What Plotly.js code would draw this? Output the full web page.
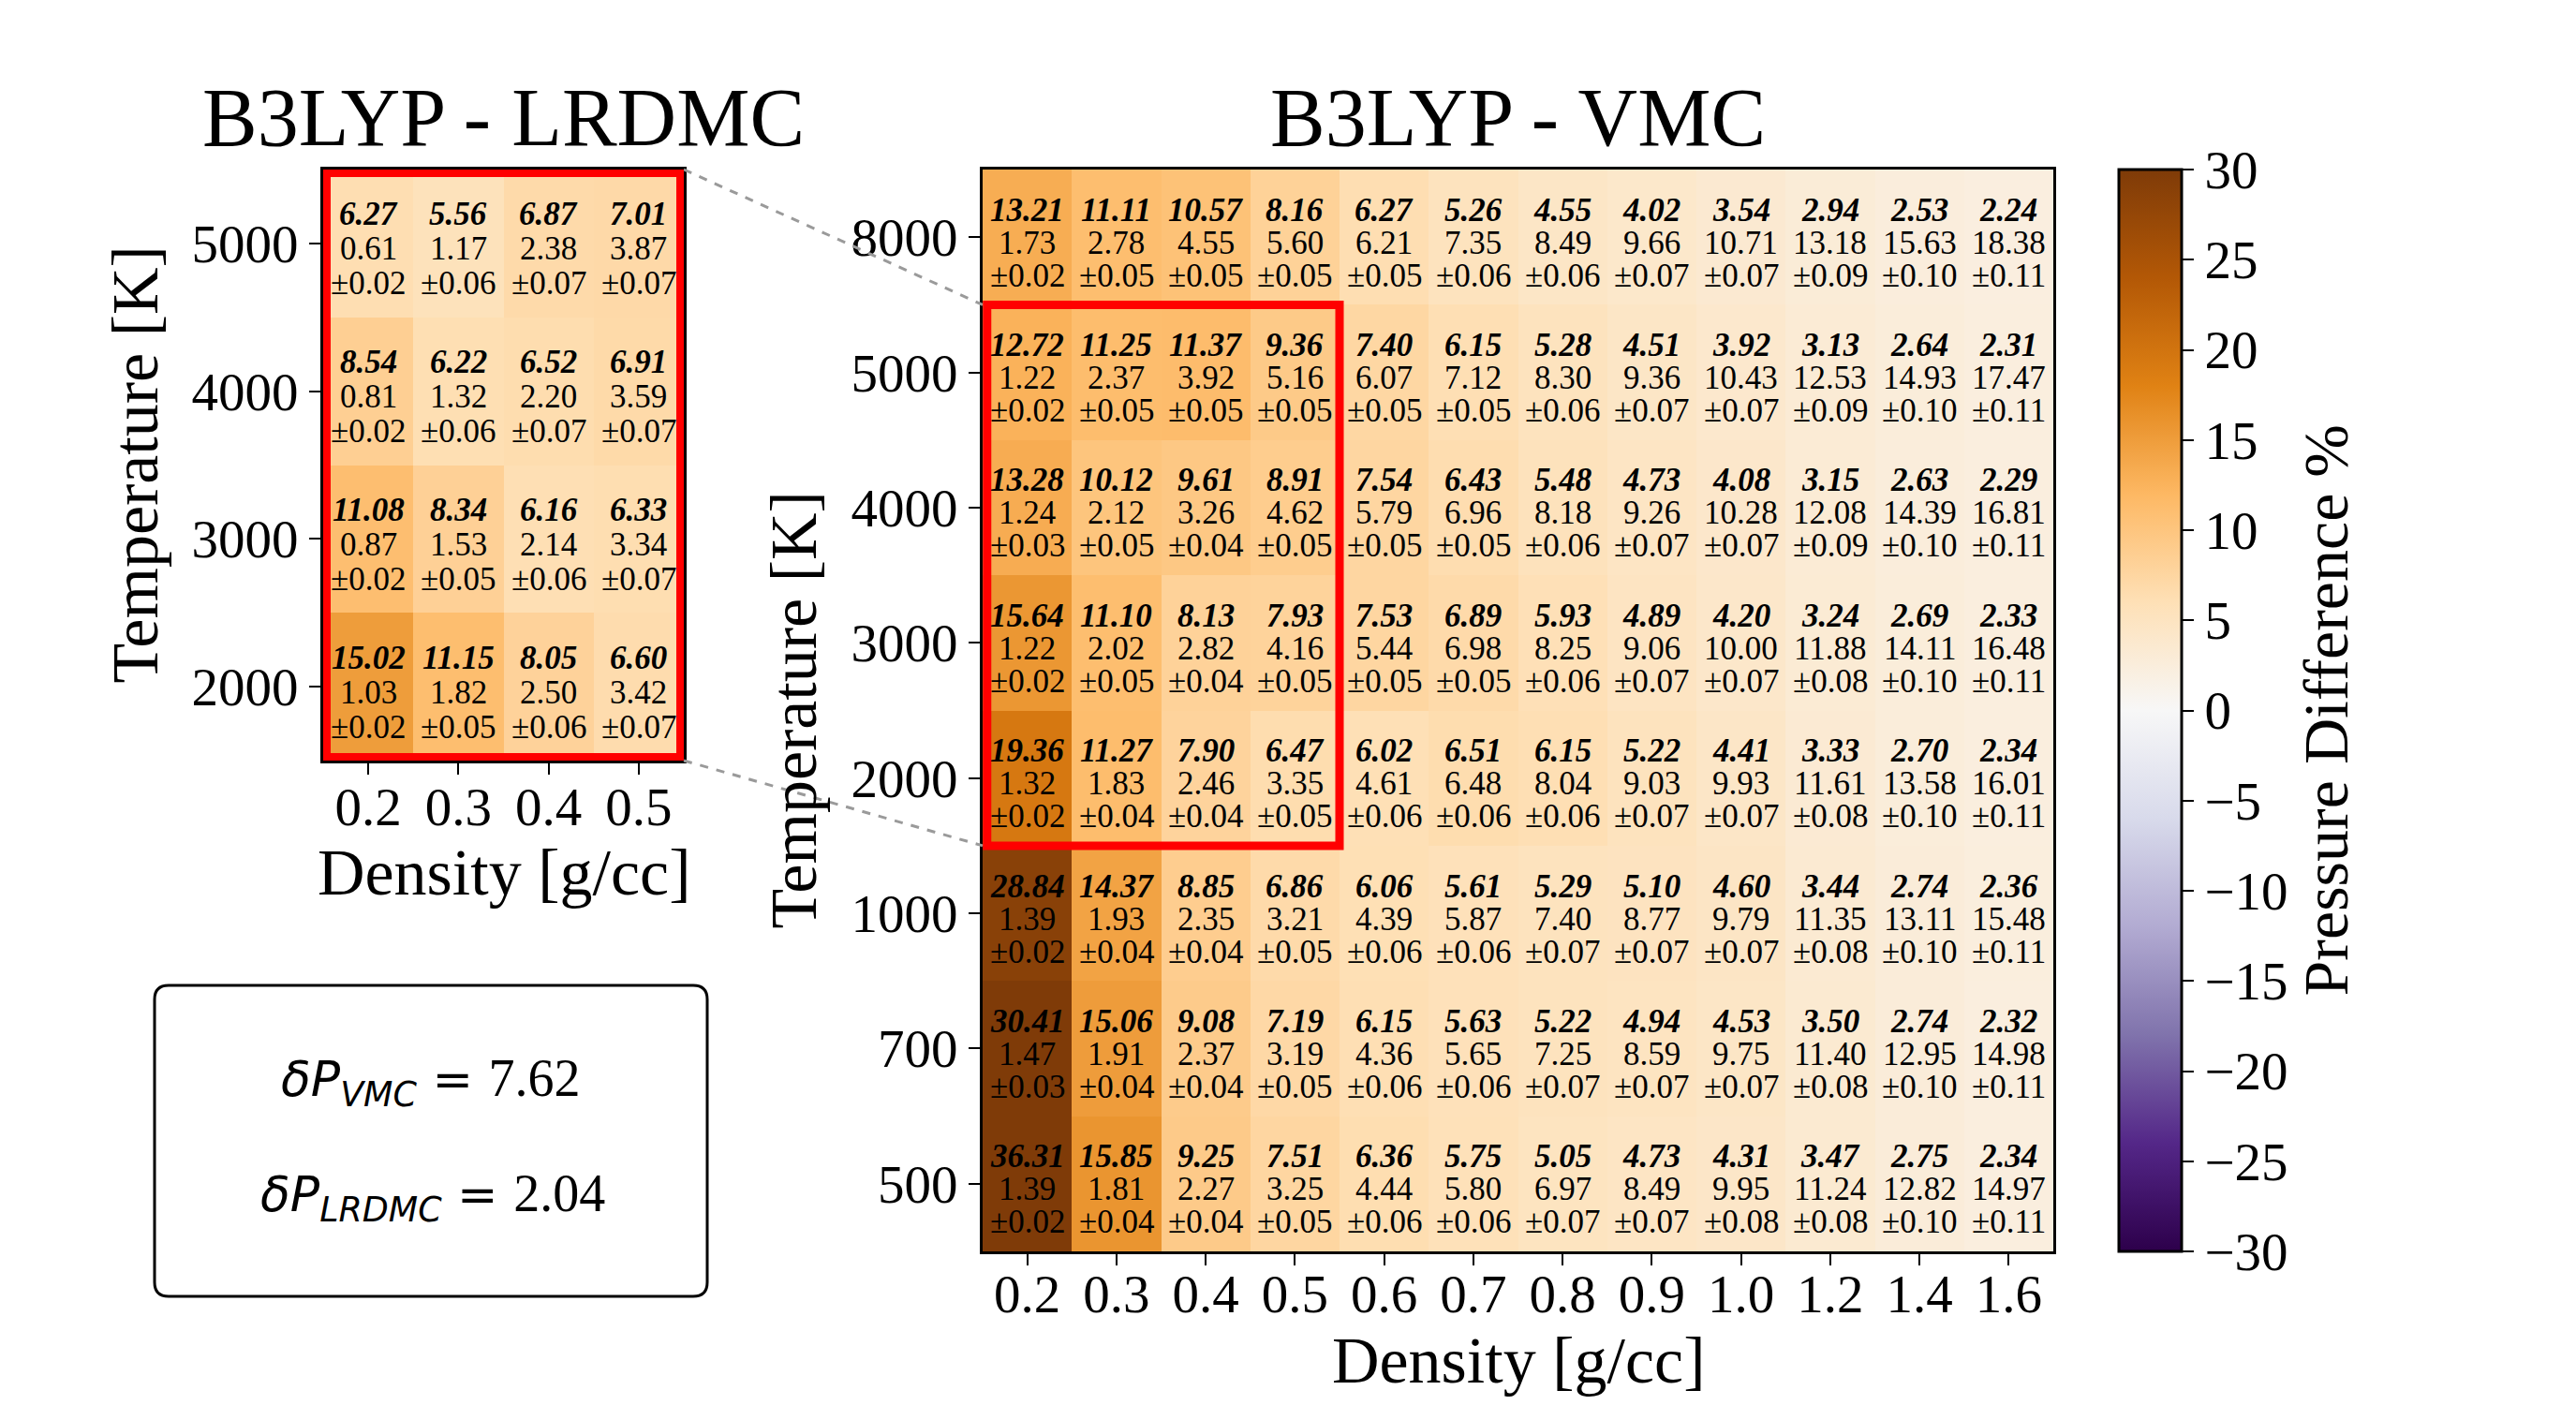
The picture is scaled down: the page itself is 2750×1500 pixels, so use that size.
<!DOCTYPE html>
<html>
<head>
<meta charset="utf-8">
<script src="https://cdn.plot.ly/plotly-3.0.1.min.js"></script>
<style>body{margin:0;background:#fff}</style>
</head>
<body>
<div id="chart" style="width:2750px;height:1500px"></div>
<script>
// B3LYP - VMC grid (rows listed top to bottom as in the figure)
var vmcDensity = ['0.2','0.3','0.4','0.5','0.6','0.7','0.8','0.9','1.0','1.2','1.4','1.6'];
var vmcTemps = ['8000','5000','4000','3000','2000','1000','700','500'];

// pressure difference % (bold italic line, also the colour)
var vmcDiff = [
  [13.21,11.11,10.57,8.16,6.27,5.26,4.55,4.02,3.54,2.94,2.53,2.24],
  [12.72,11.25,11.37,9.36,7.40,6.15,5.28,4.51,3.92,3.13,2.64,2.31],
  [13.28,10.12,9.61,8.91,7.54,6.43,5.48,4.73,4.08,3.15,2.63,2.29],
  [15.64,11.10,8.13,7.93,7.53,6.89,5.93,4.89,4.20,3.24,2.69,2.33],
  [19.36,11.27,7.90,6.47,6.02,6.51,6.15,5.22,4.41,3.33,2.70,2.34],
  [28.84,14.37,8.85,6.86,6.06,5.61,5.29,5.10,4.60,3.44,2.74,2.36],
  [30.41,15.06,9.08,7.19,6.15,5.63,5.22,4.94,4.53,3.50,2.74,2.32],
  [36.31,15.85,9.25,7.51,6.36,5.75,5.05,4.73,4.31,3.47,2.75,2.34]
];
// second line
var vmcPress = [
  [1.73,2.78,4.55,5.60,6.21,7.35,8.49,9.66,10.71,13.18,15.63,18.38],
  [1.22,2.37,3.92,5.16,6.07,7.12,8.30,9.36,10.43,12.53,14.93,17.47],
  [1.24,2.12,3.26,4.62,5.79,6.96,8.18,9.26,10.28,12.08,14.39,16.81],
  [1.22,2.02,2.82,4.16,5.44,6.98,8.25,9.06,10.00,11.88,14.11,16.48],
  [1.32,1.83,2.46,3.35,4.61,6.48,8.04,9.03,9.93,11.61,13.58,16.01],
  [1.39,1.93,2.35,3.21,4.39,5.87,7.40,8.77,9.79,11.35,13.11,15.48],
  [1.47,1.91,2.37,3.19,4.36,5.65,7.25,8.59,9.75,11.40,12.95,14.98],
  [1.39,1.81,2.27,3.25,4.44,5.80,6.97,8.49,9.95,11.24,12.82,14.97]
];
// third line (error bar)
var vmcErr = [
  [0.02,0.05,0.05,0.05,0.05,0.06,0.06,0.07,0.07,0.09,0.10,0.11],
  [0.02,0.05,0.05,0.05,0.05,0.05,0.06,0.07,0.07,0.09,0.10,0.11],
  [0.03,0.05,0.04,0.05,0.05,0.05,0.06,0.07,0.07,0.09,0.10,0.11],
  [0.02,0.05,0.04,0.05,0.05,0.05,0.06,0.07,0.07,0.08,0.10,0.11],
  [0.02,0.04,0.04,0.05,0.06,0.06,0.06,0.07,0.07,0.08,0.10,0.11],
  [0.02,0.04,0.04,0.05,0.06,0.06,0.07,0.07,0.07,0.08,0.10,0.11],
  [0.03,0.04,0.04,0.05,0.06,0.06,0.07,0.07,0.07,0.08,0.10,0.11],
  [0.02,0.04,0.04,0.05,0.06,0.06,0.07,0.07,0.08,0.08,0.10,0.11]
];

// B3LYP - LRDMC inset
var lrdmcDensity = ['0.2','0.3','0.4','0.5'];
var lrdmcTemps = ['5000','4000','3000','2000'];
var lrdmcDiff = [
  [6.27,5.56,6.87,7.01],
  [8.54,6.22,6.52,6.91],
  [11.08,8.34,6.16,6.33],
  [15.02,11.15,8.05,6.60]
];
var lrdmcPress = [
  [0.61,1.17,2.38,3.87],
  [0.81,1.32,2.20,3.59],
  [0.87,1.53,2.14,3.34],
  [1.03,1.82,2.50,3.42]
];
var lrdmcErr = [
  [0.02,0.06,0.07,0.07],
  [0.02,0.06,0.07,0.07],
  [0.02,0.05,0.06,0.07],
  [0.02,0.05,0.06,0.07]
];

var meanVmc = 7.62;
var meanLrdmc = 2.04;
var cbTicks = [-30,-25,-20,-15,-10,-5,0,5,10,15,20,25,30];

// matplotlib PuOr_r
var puorR = ['#2d004b','#542788','#8073ac','#b2abd2','#d8daeb','#f7f7f7',
             '#fee0b6','#fdb863','#e08214','#b35806','#7f3b08'];

var W = 2750, H = 1500;
var serif = 'Liberation Serif, Times New Roman, serif';

// subplot boxes in pixels
function px(x) { return x / W; }
function py(y) { return 1 - y / H; }
var mainDom = {x: [px(1049), px(2192)], y: [py(1336), py(181)]};
var insetDom = {x: [px(345), px(730)], y: [py(812), py(181)]};

// three text lines per cell, placed at the cell's category index
function cellNotes(xs, ys, diff, press, err, xr, yr, gap, off) {
  var out = [];
  ys.forEach(function (t, r) {
    xs.forEach(function (d, c) {
      var lines = ['<b><i>' + diff[r][c].toFixed(2) + '</i></b>',
                   press[r][c].toFixed(2),
                   '±' + err[r][c].toFixed(2)];
      lines.forEach(function (txt, k) {
        out.push({xref: xr, yref: yr, x: c, y: r, text: txt, showarrow: false,
                  yshift: off + gap * (1 - k),
                  font: {family: serif, size: 35, color: '#000'}});
      });
    });
  });
  return out;
}

var axisBase = {
  type: 'category', showgrid: false, zeroline: false,
  showline: true, mirror: true, linecolor: '#000', linewidth: 3,
  ticks: 'outside', ticklen: 12, tickwidth: 2, tickcolor: '#000',
  tickfont: {family: serif, size: 57, color: '#000'}, fixedrange: true
};
function ax(extra) { return Object.assign({}, axisBase, extra); }

var data = [
  {type: 'heatmap', x: vmcDensity, y: vmcTemps, z: vmcDiff,
   coloraxis: 'coloraxis', xaxis: 'x', yaxis: 'y', hoverinfo: 'skip'},
  {type: 'heatmap', x: lrdmcDensity, y: lrdmcTemps, z: lrdmcDiff,
   coloraxis: 'coloraxis', xaxis: 'x2', yaxis: 'y2', hoverinfo: 'skip'}
];

// connector geometry from the subplot domains
var rowH = (mainDom.y[1] - mainDom.y[0]) / vmcTemps.length;
var zoomTop = mainDom.y[1] - rowH * vmcTemps.indexOf(lrdmcTemps[0]);
var zoomBot = mainDom.y[1] - rowH * (vmcTemps.indexOf(lrdmcTemps[lrdmcTemps.length - 1]) + 1);

var bx0 = px(165), bx1 = px(755), by0 = py(1384), by1 = py(1052);
var rx = px(15), ry = 15 / H;
var boxPath = 'M' + (bx0 + rx) + ',' + by1 + ' L' + (bx1 - rx) + ',' + by1 +
  ' Q' + bx1 + ',' + by1 + ' ' + bx1 + ',' + (by1 - ry) +
  ' L' + bx1 + ',' + (by0 + ry) + ' Q' + bx1 + ',' + by0 + ' ' + (bx1 - rx) + ',' + by0 +
  ' L' + (bx0 + rx) + ',' + by0 + ' Q' + bx0 + ',' + by0 + ' ' + bx0 + ',' + (by0 + ry) +
  ' L' + bx0 + ',' + (by1 - ry) + ' Q' + bx0 + ',' + by1 + ' ' + (bx0 + rx) + ',' + by1 + ' Z';

var shapes = [
  {type: 'line', xref: 'paper', yref: 'paper', x0: insetDom.x[1], y0: insetDom.y[1],
   x1: mainDom.x[0], y1: zoomTop, line: {color: '#9a9a9a', width: 3, dash: 'dash'}},
  {type: 'line', xref: 'paper', yref: 'paper', x0: insetDom.x[1], y0: insetDom.y[0],
   x1: mainDom.x[0], y1: zoomBot, line: {color: '#9a9a9a', width: 3, dash: 'dash'}},
  {type: 'rect', xref: 'x', yref: 'y', x0: -0.45, x1: 3.5,
   y0: vmcTemps.indexOf(lrdmcTemps[0]) - 0.5,
   y1: vmcTemps.indexOf(lrdmcTemps[lrdmcTemps.length - 1]) + 0.5,
   line: {color: '#ff0000', width: 9}},
  {type: 'rect', xref: 'x2', yref: 'y2', x0: -0.5, x1: lrdmcDensity.length - 0.5,
   y0: -0.5, y1: lrdmcTemps.length - 0.5, line: {color: '#ff0000', width: 16}},
  {type: 'path', xref: 'paper', yref: 'paper', path: boxPath,
   line: {color: '#000', width: 3}, fillcolor: 'rgba(255,255,255,0)'}
];

function label(text, x, y, size, angle) {
  return {xref: 'paper', yref: 'paper', x: x, y: y, text: text, showarrow: false,
          textangle: angle || 0, xanchor: 'center', yanchor: 'middle',
          font: {family: serif, size: size, color: '#000'}};
}

var mathSpan = '<span style="font-family:\'DejaVu Sans\';font-size:52px">';
var annotations = [
  label('B3LYP - VMC', (mainDom.x[0] + mainDom.x[1]) / 2, py(126), 88),
  label('B3LYP - LRDMC', (insetDom.x[0] + insetDom.x[1]) / 2, py(126), 88),
  label('Density [g/cc]', (mainDom.x[0] + mainDom.x[1]) / 2, py(1452), 70),
  label('Temperature [K]', px(847), (mainDom.y[0] + mainDom.y[1]) / 2, 70, -90),
  label('Density [g/cc]', (insetDom.x[0] + insetDom.x[1]) / 2, py(932), 70),
  label('Temperature [K]', px(144), (insetDom.y[0] + insetDom.y[1]) / 2, 70, -90),
  label('Pressure Difference %', px(2482), (mainDom.y[0] + mainDom.y[1]) / 2, 68, -90),
  label(mathSpan + '<i>δP</i><sub><i>VMC</i></sub> = </span>' + meanVmc.toFixed(2), px(460), py(1155), 56),
  label(mathSpan + '<i>δP</i><sub><i>LRDMC</i></sub> = </span>' + meanLrdmc.toFixed(2), px(462), py(1278), 56)
].concat(
  cellNotes(vmcDensity, vmcTemps, vmcDiff, vmcPress, vmcErr, 'x', 'y', 35, -6),
  cellNotes(lrdmcDensity, lrdmcTemps, lrdmcDiff, lrdmcPress, lrdmcErr, 'x2', 'y2', 37, -6)
);

var layout = {
  width: W, height: H,
  margin: {l: 0, r: 0, t: 0, b: 0},
  paper_bgcolor: '#fff', plot_bgcolor: '#fff',
  showlegend: false,
  xaxis: ax({domain: mainDom.x, anchor: 'y', range: [-0.5, vmcDensity.length - 0.5],
             ticklabelstandoff: -18}),
  yaxis: ax({domain: mainDom.y, anchor: 'x', range: [vmcTemps.length - 0.5, -0.5]}),
  xaxis2: ax({domain: insetDom.x, anchor: 'y2', range: [-0.5, lrdmcDensity.length - 0.5],
              ticklabelstandoff: -14}),
  yaxis2: ax({domain: insetDom.y, anchor: 'x2', range: [lrdmcTemps.length - 0.5, -0.5]}),
  coloraxis: {
    cmin: -30, cmax: 30,
    colorscale: puorR.map(function (c, i) { return [i / (puorR.length - 1), c]; }),
    colorbar: {
      x: px(2262), xanchor: 'left', y: (mainDom.y[0] + mainDom.y[1]) / 2, yanchor: 'middle',
      len: mainDom.y[1] - mainDom.y[0], lenmode: 'fraction',
      thickness: 67, thicknessmode: 'pixels', xpad: 0, ypad: 0,
      outlinewidth: 3, outlinecolor: '#000', borderwidth: 0,
      tickvals: cbTicks, ticks: 'outside', ticklen: 12, tickwidth: 2, tickcolor: '#000',
      tickfont: {family: serif, size: 57, color: '#000'}
    }
  },
  shapes: shapes,
  annotations: annotations
};

Plotly.newPlot('chart', data, layout, {displayModeBar: false, staticPlot: true});
</script>
</body>
</html>
